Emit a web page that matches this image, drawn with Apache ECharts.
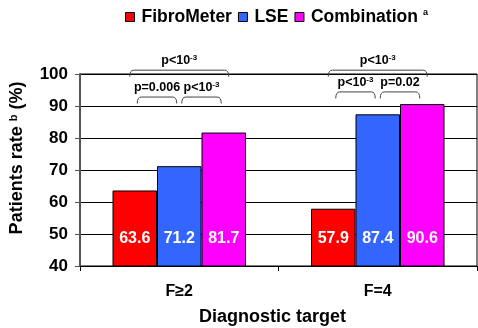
<!DOCTYPE html>
<html>
<head>
<meta charset="utf-8">
<script src="https://cdn.jsdelivr.net/npm/echarts@6/dist/echarts.min.js"></script>
<style>html,body{margin:0;padding:0;background:#fff}#c{width:478px;height:328px}</style>
</head>
<body>
<div id="c"></div>
<script>
const categories = ['F≥2', 'F=4'];
const seriesNames = ['FibroMeter', 'LSE', 'Combination'];
const fibroMeter = [63.6, 57.9];
const lse = [71.2, 87.4];
const combination = [81.7, 90.6];
const yTicks = [40, 50, 60, 70, 80, 90, 100];

// significance brackets: category, from-series, to-series, level value, label
const bracketCat = [0, 0, 0, 1, 1, 1];
const bracketFrom = [0, 1, 0, 0, 1, 0];
const bracketTo = [1, 2, 2, 1, 2, 2];
const bracketLevel = [92.8, 92.8, 101.2, 94.4, 94.4, 101.2];
const bracketText = ['p=0.006', 'p<10{s|-3}', 'p<10{s|-3}', 'p<10{s|-3}', 'p=0.02', 'p<10{s|-3}'];

const colors = ['#FF0000', '#3366FF', '#FF00FF'];
const FONT = 'Liberation Sans, Arial, sans-serif';
const BAR_W = 44.5;

const chart = echarts.init(document.getElementById('c'), null, {renderer: 'canvas'});
const values = [fibroMeter, lse, combination];

chart.setOption({
  animation: false,
  textStyle: {fontFamily: FONT},
  color: colors,
  legend: {
    left: 125, top: 8, padding: 0,
    itemWidth: 9, itemHeight: 9, itemGap: 6,
    icon: 'rect',
    itemStyle: {borderColor: '#000', borderWidth: 1},
    formatter: n => n === 'Combination' ? n + '{s|a}' : n,
    textStyle: {
      fontFamily: FONT, fontWeight: 'bold', fontSize: 17.5, color: '#000', padding: [0, 0, 0, 2],
      rich: {s: {fontFamily: FONT, fontWeight: 'bold', fontSize: 9, verticalAlign: 'top', padding: [0, 0, 8, 5]}}
    },
    data: seriesNames
  },
  grid: {left: 80, right: 1, top: 74, bottom: 62, show: true, borderColor: '#000', borderWidth: 1,
         containLabel: false, outerBoundsMode: 'none'},
  xAxis: {
    type: 'category', data: categories,
    axisLine: {lineStyle: {color: '#000', width: 1}},
    axisTick: {show: true, length: 5, lineStyle: {color: '#000'}},
    axisLabel: {margin: 18, fontFamily: FONT, fontWeight: 'bold', fontSize: 16, color: '#000'},
    name: 'Diagnostic target', nameLocation: 'middle', nameGap: 42,
    nameTextStyle: {fontFamily: FONT, fontWeight: 'bold', fontSize: 18, color: '#000', padding: [0, 12, 0, 0]}
  },
  yAxis: {
    type: 'value', min: yTicks[0], max: yTicks[yTicks.length - 1], interval: 10,
    axisLine: {show: true, lineStyle: {color: '#555', width: 2}},
    axisTick: {show: true, length: 5, lineStyle: {color: '#555'}},
    axisLabel: {margin: 12, fontFamily: FONT, fontWeight: 'bold', fontSize: 17, color: '#000'},
    splitLine: {lineStyle: {color: '#000', width: 1}},
    name: 'Patients rate {s|b} (%)', nameLocation: 'middle', nameGap: 54,
    nameTextStyle: {
      fontFamily: FONT, fontWeight: 'bold', fontSize: 18, color: '#000', padding: [0, 0, 0, 24],
      rich: {s: {fontFamily: FONT, fontWeight: 'bold', fontSize: 11, verticalAlign: 'top', padding: [0, 0, 7, 0]}}
    }
  },
  series: seriesNames.map((n, i) => ({
    name: n, type: 'bar', data: values[i], barWidth: BAR_W, barGap: '0%',
    itemStyle: {color: colors[i], borderColor: '#000', borderWidth: 1},
    label: {
      show: true, position: 'insideBottom', distance: 20,
      fontFamily: FONT, fontWeight: 'bold', fontSize: 16, color: '#fff',
      formatter: p => p.value.toFixed(1)
    }
  }))
});

// brackets positioned through the chart's scales
const gfx = [];
const stroke = {stroke: '#444', lineWidth: 1, fill: null};
for (let k = 0; k < bracketCat.length; k++) {
  const cx = chart.convertToPixel({xAxisIndex: 0}, bracketCat[k]);
  const outer = (bracketTo[k] - bracketFrom[k]) > 1;
  const inset = outer ? -5 : 2.5;
  const x1 = cx + (bracketFrom[k] - 1) * BAR_W + inset;
  const x2 = cx + (bracketTo[k] - 1) * BAR_W - inset;
  const yt = chart.convertToPixel({yAxisIndex: 0}, bracketLevel[k]);
  const yb = yt + 6.5, r = 4;
  gfx.push({type: 'bezierCurve', shape: {x1: x1, y1: yb, cpx1: x1, cpy1: yt, x2: x1 + r, y2: yt}, style: stroke});
  gfx.push({type: 'line', shape: {x1: x1 + r, y1: yt, x2: x2 - r, y2: yt}, style: stroke});
  gfx.push({type: 'bezierCurve', shape: {x1: x2 - r, y1: yt, cpx1: x2, cpy1: yt, x2: x2, y2: yb}, style: stroke});
  gfx.push({
    type: 'text',
    x: (x1 + x2) / 2, y: yt - 3,
    style: {
      text: bracketText[k], fontFamily: FONT, fontWeight: 'bold', fontSize: 12.5, fill: '#000',
      textAlign: 'center', textVerticalAlign: 'bottom',
      rich: {s: {fontFamily: FONT, fontWeight: 'bold', fontSize: 8, fill: '#000', verticalAlign: 'top', padding: [0, 0, 5, 0]}}
    }
  });
}
chart.setOption({graphic: gfx});
</script>
</body>
</html>
